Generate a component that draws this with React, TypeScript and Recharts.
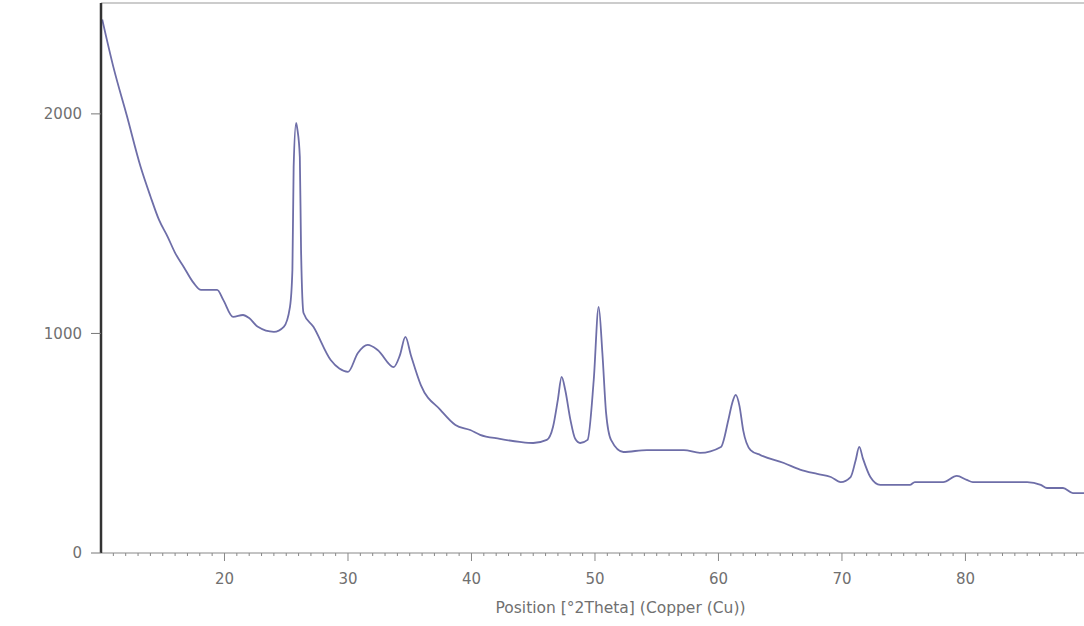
import { LineChart, Line, XAxis, YAxis, ReferenceLine } from 'recharts'

// 2θ positions (degrees) and counts
const twoTheta = [
  10.1, 11.0, 12.1, 13.2, 14.0, 14.7, 15.4, 16.0, 16.7, 17.5, 18.1, 19.4, 19.9, 20.7, 21.5, 22.0, 22.7, 24.0, 24.8,
  25.3, 25.5, 25.6, 25.8, 25.9, 26.1, 26.2, 26.4, 27.2, 28.6, 29.3, 30.0, 30.8, 31.6, 32.4, 33.7, 34.2, 34.65, 35.1,
  35.9, 37.5, 38.7, 39.9, 40.7, 42.3, 43.9, 45.0, 46.1, 46.6, 47.0, 47.3, 47.6, 48.0, 48.4, 48.8, 49.4, 49.9, 50.3,
  50.6, 50.9, 51.3, 52.3, 54.2, 57.2, 58.5, 60.2, 60.8, 61.1, 61.4, 61.7, 62.0, 62.6, 63.4, 65.3, 66.6, 68.0, 69.1,
  69.9, 70.7, 71.1, 71.4, 71.7, 72.3, 73.1, 75.5, 75.9, 78.2, 79.3, 80.1, 80.6, 82.8, 85.0, 86.1, 86.6, 87.9, 88.7,
  89.6,
]
const counts = [
  2430, 2214, 1990, 1760, 1625, 1517, 1440, 1367, 1303, 1230, 1198, 1198, 1153, 1075, 1084, 1070, 1030, 1007, 1030,
  1120, 1290, 1758, 1959, 1930, 1804, 1380, 1093, 1030, 879, 840, 825, 911, 948, 925, 847, 900, 984, 900,
  765, 651, 583, 560, 538, 520, 506, 501, 515, 574, 700, 802, 740, 610, 520, 501, 515, 788, 1121,
  911, 638, 515, 460, 469, 469, 456, 483, 606, 680, 720, 670, 560, 469, 446, 410, 380, 360, 346,
  323, 346, 420, 483, 430, 346, 310, 310, 323, 323, 351, 333, 323, 323, 323, 310, 296, 296, 273,
  273,
]

const xMajorTicks = [20, 30, 40, 50, 60, 70, 80]
const xAllTicks: number[] = []
for (let t = 11; t <= 89; t++) xAllTicks.push(t)
const yTicks = [0, 1000, 2000]
const xMax = 89.6
const yMax = 2505
const xTitle = 'Position [°2Theta] (Copper (Cu))'

const data = twoTheta.map((t, i) => ({ t, c: counts[i] }))

const font = '"DejaVu Sans", Verdana, sans-serif'
const textColor = '#707070'

function XTick(props: any) {
  const { x, y, payload } = props
  const major = xMajorTicks.includes(payload.value)
  return (
    <g>
      <line x1={x} x2={x} y1={y} y2={y + (major ? 8 : 3)} stroke="#888" />
      {major && (
        <text x={x} y={y + 31} textAnchor="middle" fontSize={15} fill={textColor} fontFamily={font}>
          {payload.value}
        </text>
      )}
    </g>
  )
}

function XTitle(props: any) {
  const vb = props.viewBox
  return (
    <text x={vb.x + vb.width / 2 + 28} y={613} textAnchor="middle" fontSize={15.5} fill={textColor} fontFamily={font}>
      {xTitle}
    </text>
  )
}

export default function App() {
  return (
    <div style={{ position: 'absolute', left: 0, top: 0, background: '#fff' }}>
      <LineChart width={1084} height={626} data={data} margin={{ top: 3, right: 0, bottom: 0, left: 0 }}>
        <XAxis
          dataKey="t"
          type="number"
          domain={[10, xMax]}
          allowDataOverflow
          ticks={xAllTicks}
          interval={0}
          tickSize={0}
          tickMargin={0}
          tick={<XTick />}
          tickLine={false}
          axisLine={{ stroke: '#888' }}
          height={73}
          label={{ content: <XTitle /> }}
        />
        <YAxis
          type="number"
          domain={[0, yMax]}
          allowDataOverflow
          ticks={yTicks}
          interval={0}
          width={101}
          tickSize={10}
          tickMargin={9}
          tickLine={{ stroke: '#777' }}
          axisLine={{ stroke: '#333', strokeWidth: 2.5 }}
          tick={{ fontSize: 15, fill: textColor, fontFamily: font }}
        />
        <ReferenceLine y={yMax} stroke="#999" />
        <Line
          type="monotone"
          dataKey="c"
          stroke="#6e6ea8"
          strokeWidth={1.8}
          dot={false}
          isAnimationActive={false}
        />
      </LineChart>
    </div>
  )
}
